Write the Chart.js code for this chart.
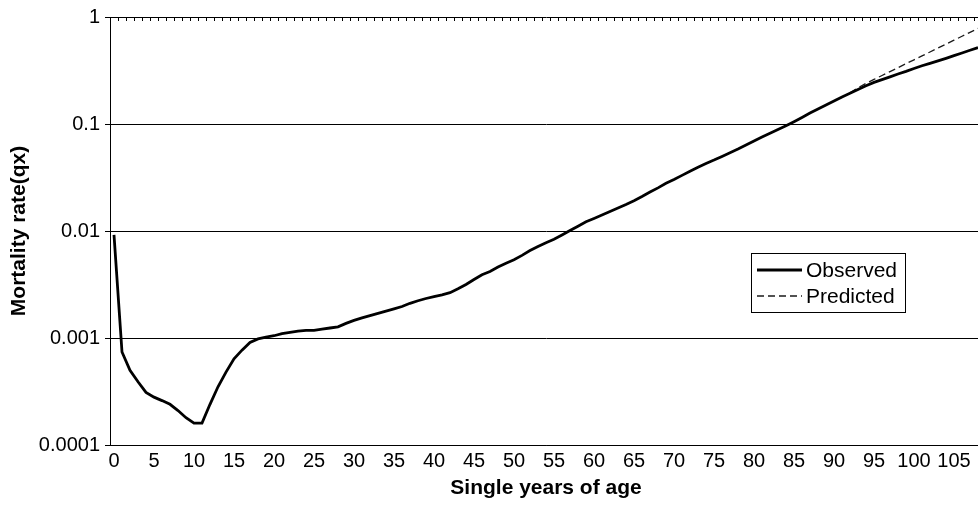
<!DOCTYPE html>
<html><head><meta charset="utf-8">
<script src="https://cdn.jsdelivr.net/npm/chart.js@4.4.1/dist/chart.umd.min.js"></script>
<style>
html,body{margin:0;padding:0;background:#fff;overflow:hidden;width:978px;height:506px;}
#wrap{width:990px;height:506px;position:relative;}
canvas{display:block;}
</style></head><body>
<div id="wrap"><canvas id="c" width="990" height="506"></canvas></div>
<script>
const ages = [0,1,2,3,4,5,6,7,8,9,10,11,12,13,14,15,16,17,18,19,20,21,22,23,24,25,26,27,28,29,30,31,32,33,34,35,36,37,38,39,40,41,42,43,44,45,46,47,48,49,50,51,52,53,54,55,56,57,58,59,60,61,62,63,64,65,66,67,68,69,70,71,72,73,74,75,76,77,78,79,80,81,82,83,84,85,86,87,88,89,90,91,92,93,94,95,96,97,98,99,100,101,102,103,104,105,106,107,108];
const observed = [
 0.0092,0.00074,0.00050,0.00039,0.00031,0.00028,0.00026,0.00024,0.00021,0.00018,
 0.00016,0.00016,0.00024,0.00035,0.00048,0.00064,0.00077,0.00091,0.00098,0.00102,
 0.00105,0.00110,0.00113,0.00116,0.00118,0.00118,0.00121,0.00124,0.00127,0.00137,
 0.00146,0.00154,0.00162,0.00170,0.00178,0.00187,0.00197,0.00211,0.00223,0.00234,
 0.00244,0.00253,0.00265,0.00288,0.00316,0.00352,0.00390,0.00418,0.00460,0.00500,
 0.00538,0.00592,0.00656,0.00716,0.00778,0.00838,0.00918,0.0101,0.0111,0.0122,
 0.0131,0.0141,0.0152,0.0164,0.0177,0.0192,0.0210,0.0231,0.0253,0.0279,
 0.0303,0.0331,0.0361,0.0394,0.0427,0.0460,0.0498,0.0538,0.0583,0.0635,
 0.0693,0.0755,0.0820,0.0888,0.0961,0.105,0.115,0.1265,0.138,0.1505,
 0.164,0.179,0.194,0.210,0.228,0.245,0.260,0.276,0.293,0.310,
 0.330,0.350,0.369,0.389,0.411,0.435,0.461,0.489,0.517];
const predictedAges = [92,93,94,95,96,97,98,99,100,101,102,103,104,105,106,107,108];
const predictedValues = [0.196,0.218,0.240,0.261,0.284,0.309,0.336,0.366,0.398,0.433,0.471,0.513,0.558,0.607,0.661,0.719,0.782];
const yTickValues = [0.0001,0.001,0.01,0.1,1];
const yTickLabels = ['0.0001','0.001','0.01','0.1','1'];
const xTickLabels = ['0','5','10','15','20','25','30','35','40','45','50','55','60','65','70','75','80','85','90','95','100','105'];
const seriesNames = ['Observed','Predicted'];
const xTitle = 'Single years of age';
const yTitle = 'Mortality rate(qx)';

const FONT = "'Liberation Sans', Arial, Helvetica, sans-serif";
Chart.defaults.font.family = FONT;
Chart.defaults.color = '#000';

const topTicks = {
  id: 'topTicks',
  afterDatasetsDraw(chart) {
    const {ctx, chartArea: a, scales: {x}} = chart;
    const n = chart.data.labels.length;
    const w = x.getPixelForValue(1) - x.getPixelForValue(0);
    ctx.save();
    ctx.strokeStyle = '#000';
    ctx.lineWidth = 1;
    ctx.beginPath();
    for (let i = 0; i <= n; i++) {
      const px = Math.round(x.getPixelForValue(i) - w / 2) + 0.5;
      ctx.moveTo(px, a.top);
      ctx.lineTo(px, a.top + 4);
    }
    ctx.stroke();
    ctx.restore();
  }
};

const legendBox = {
  id: 'legendBox',
  afterDraw(chart) {
    const ctx = chart.ctx;
    const ds = chart.data.datasets;
    ctx.save();
    ctx.fillStyle = '#fff';
    ctx.fillRect(751, 253, 154, 59);
    ctx.strokeStyle = '#000';
    ctx.lineWidth = 1;
    ctx.strokeRect(751.5, 253.5, 154, 59);
    const rows = [270, 296];
    ds.forEach((d, i) => {
      const y = rows[i];
      ctx.beginPath();
      ctx.strokeStyle = d.borderColor;
      ctx.lineWidth = d.borderWidth;
      ctx.setLineDash(d.borderDash || []);
      ctx.moveTo(757, y);
      ctx.lineTo(802, y);
      ctx.stroke();
      ctx.setLineDash([]);
      ctx.fillStyle = '#000';
      ctx.font = "21px " + FONT;
      ctx.textBaseline = 'middle';
      ctx.textAlign = 'left';
      ctx.fillText(d.label, 806, y + 1);
    });
    ctx.restore();
  }
};

new Chart(document.getElementById('c'), {
  type: 'line',
  data: {
    labels: ages.map(String),
    datasets: [
      {label: seriesNames[0], data: observed, borderColor: '#000', borderWidth: 2.8, pointRadius: 0, tension: 0, fill: false},
      {label: seriesNames[1], data: predictedAges.map((a, i) => ({x: String(a), y: predictedValues[i]})), borderColor: '#1a1a1a', borderWidth: 1.3, borderDash: [7, 4], pointRadius: 0, tension: 0, fill: false}
    ]
  },
  options: {
    responsive: false,
    animation: false,
    devicePixelRatio: 1,
    layout: {padding: {left: 0, right: 8, top: 15, bottom: 0}},
    plugins: {legend: {display: false}, tooltip: {enabled: false}},
    scales: {
      x: {
        type: 'category',
        offset: true,
        grid: {display: false, drawTicks: false},
        border: {display: true, color: '#000', width: 1},
        ticks: {
          autoSkip: false, maxRotation: 0, minRotation: 0, padding: 4,
          font: {size: 20}, color: '#000',
          callback: (v, i) => xTickLabels.includes(String(ages[i])) ? String(ages[i]) : ''
        },
        title: {display: true, text: xTitle, font: {size: 21, weight: 'bold'}, color: '#000', padding: {top: 0, bottom: 5}},
        afterFit: (s) => { s.height = 61; }
      },
      y: {
        type: 'logarithmic',
        min: 0.0001, max: 1,
        afterBuildTicks: (s) => { s.ticks = yTickValues.map(v => ({value: v})); },
        grid: {color: '#000', lineWidth: 1, tickLength: 5, drawTicks: true},
        border: {display: true, color: '#000', width: 1},
        ticks: {
          autoSkip: false, padding: 5, font: {size: 20}, color: '#000',
          callback: (v) => { const i = yTickValues.indexOf(v); return i >= 0 ? yTickLabels[i] : ''; }
        },
        title: {display: true, text: yTitle, font: {size: 21, weight: 'bold'}, color: '#000', padding: {top: 7, bottom: 0}},
        afterFit: (s) => { s.width = 110; }
      }
    }
  },
  plugins: [topTicks, legendBox]
});
</script>
</body></html>
